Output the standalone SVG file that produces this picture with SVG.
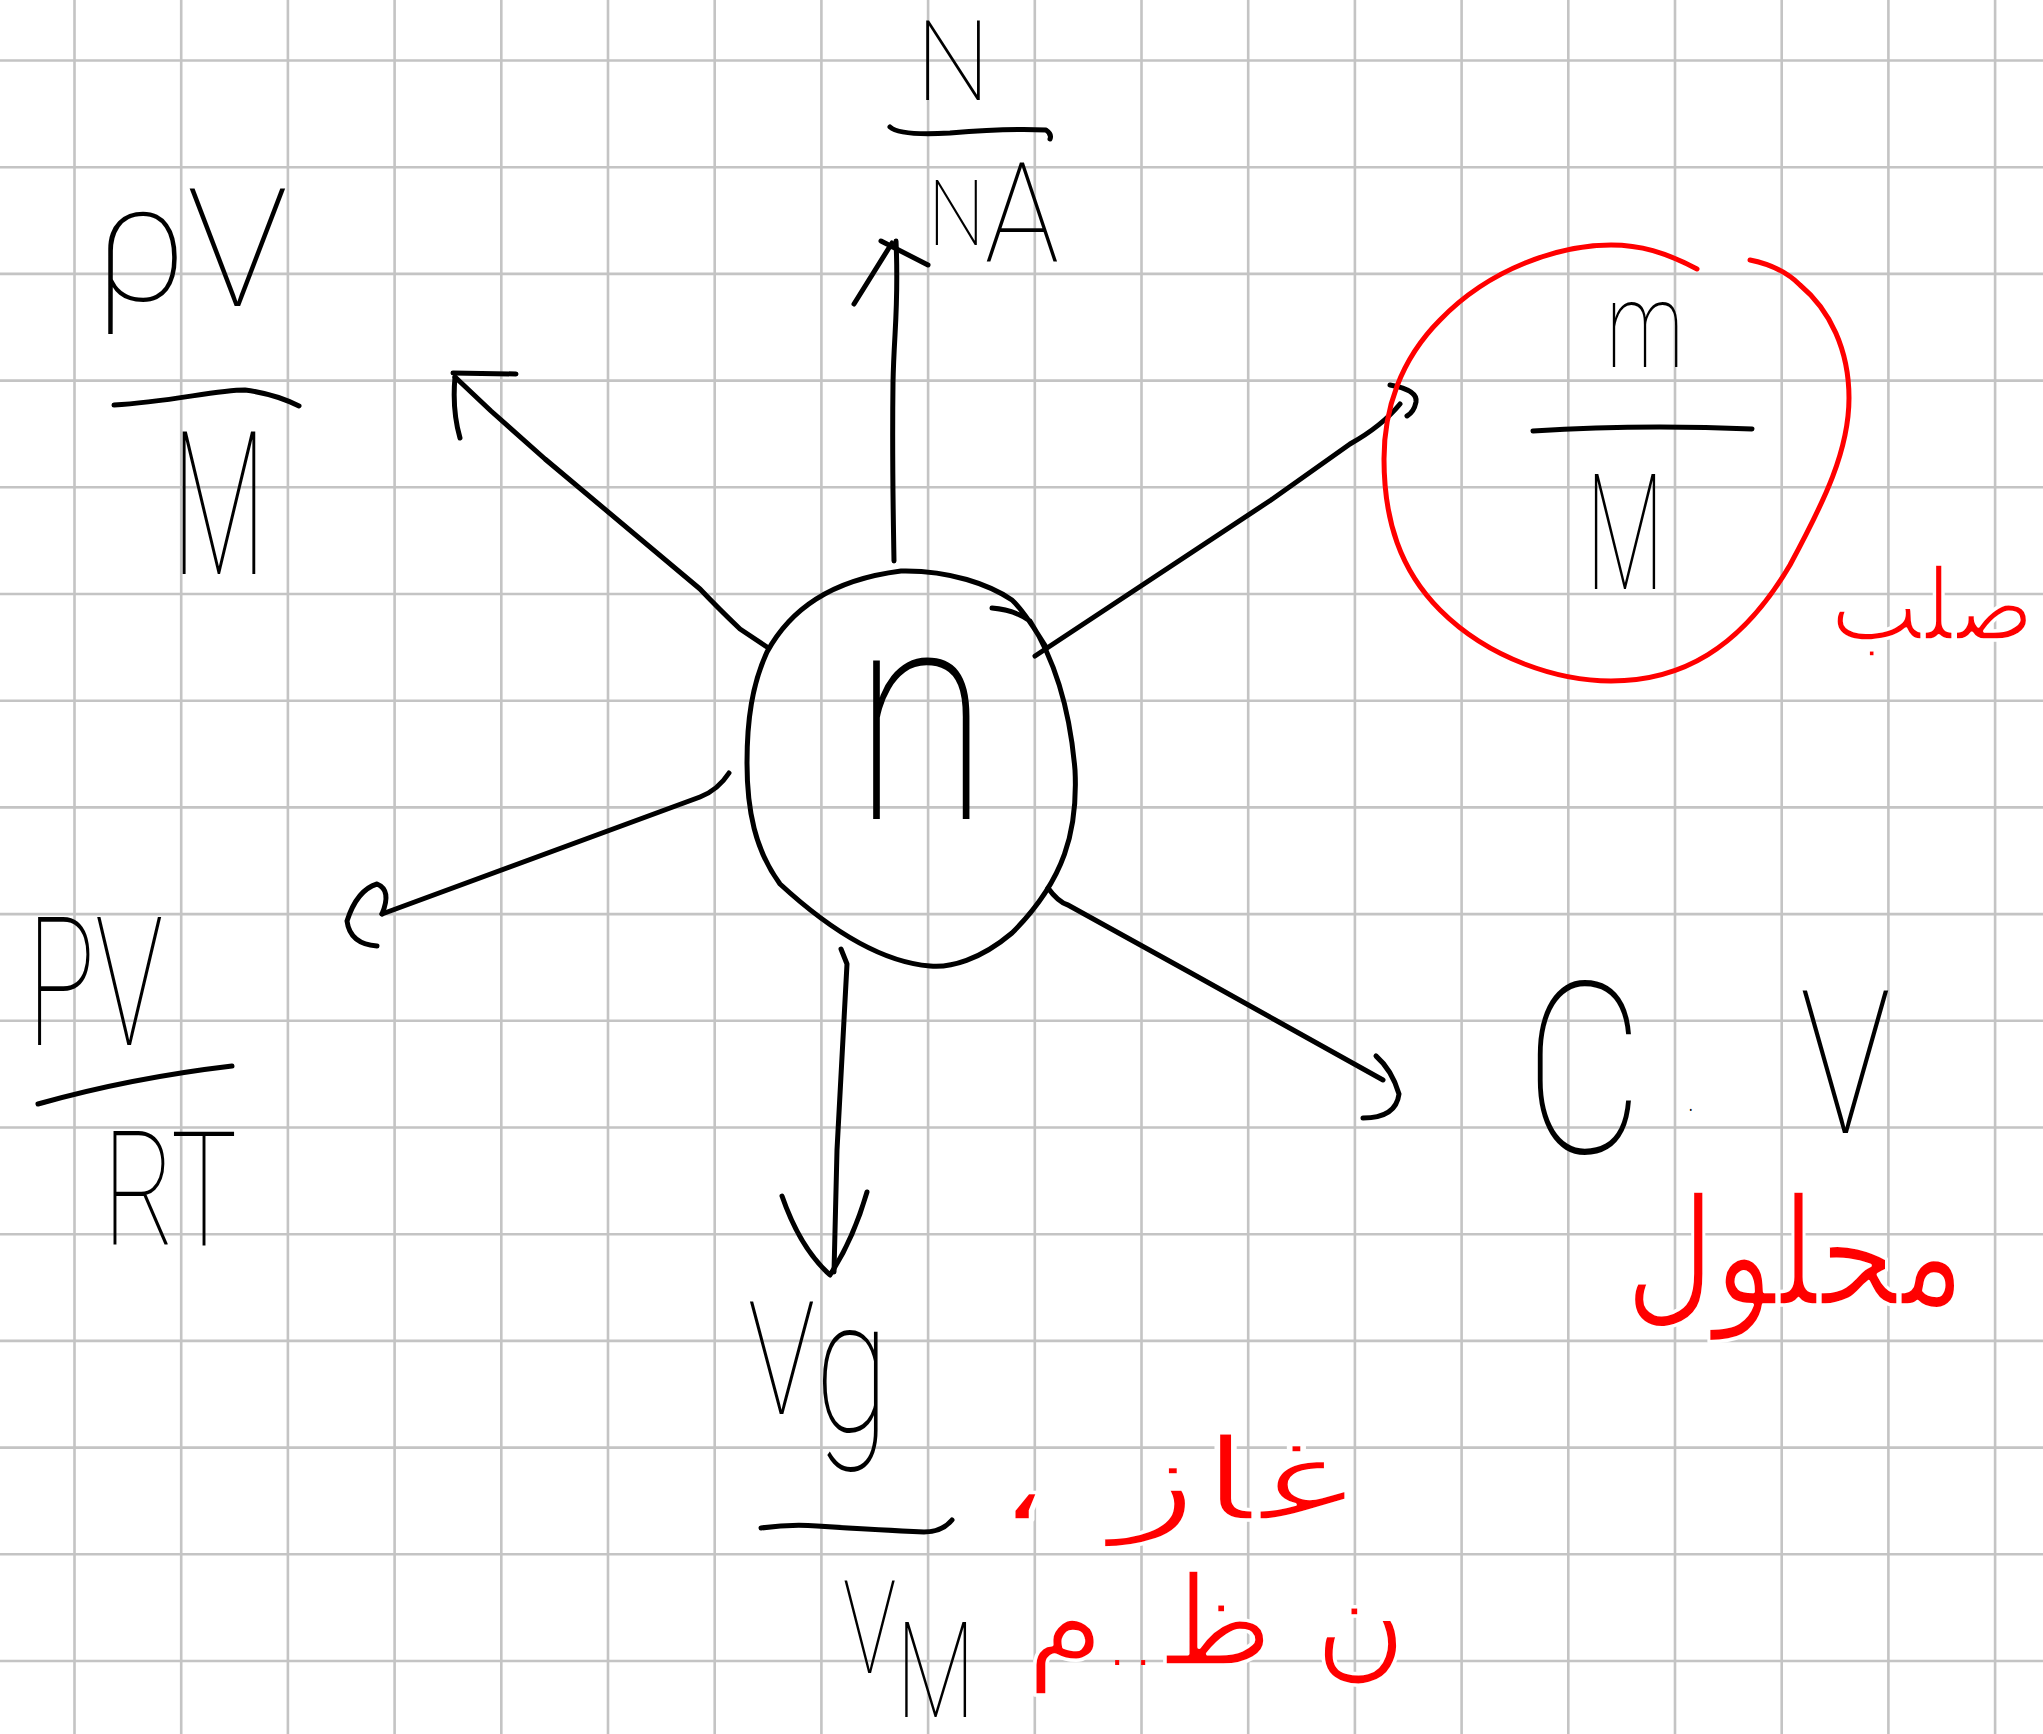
<svg xmlns="http://www.w3.org/2000/svg" width="2043" height="1734" viewBox="0 0 2043 1734">
<style>
.grid{stroke:#c4c4c4;stroke-width:2.6;fill:none}
.ink{stroke:#000;stroke-width:5;fill:none;stroke-linecap:round;stroke-linejoin:round}
.red{stroke:#ff0000;stroke-width:5;fill:none;stroke-linecap:round;stroke-linejoin:round}
.t{font-family:Roboto,"Liberation Sans",sans-serif;font-weight:100;fill:#000}
.ar{font-family:"DejaVu Sans","Noto Sans",sans-serif;font-weight:200;fill:#ff0000;stroke:#fff;stroke-width:3.5;stroke-linejoin:round}
</style>
<rect width="2043" height="1734" fill="#fff"/>
<g id="grid">
<path class="grid" d="M74.5 0V1734M181.2 0V1734M287.9 0V1734M394.6 0V1734M501.3 0V1734M608 0V1734M714.7 0V1734M821.4 0V1734M928.1 0V1734M1034.8 0V1734M1141.5 0V1734M1248.2 0V1734M1354.9 0V1734M1461.6 0V1734M1568.3 0V1734M1675 0V1734M1781.7 0V1734M1888.4 0V1734M1995.1 0V1734"/>
<path class="grid" d="M0 60.5H2043M0 167.2H2043M0 273.9H2043M0 380.6H2043M0 487.3H2043M0 594H2043M0 700.7H2043M0 807.4H2043M0 914.1H2043M0 1020.8H2043M0 1127.5H2043M0 1234.2H2043M0 1340.9H2043M0 1447.6H2043M0 1554.3H2043M0 1661H2043"/>
</g>
<g id="connectors">
<g id="to-NA">
<path class="ink" d="M894 561C893 500 892 459 893 383C894 330 899 306 896 241"/>
<path class="ink" d="M854 304L892 243M881 241L928 265"/>
</g>
<g id="to-rhoV">
<path class="ink" d="M767 647L740 629Q718 608 700 589L545 459L491 411L455 377"/>
<path class="ink" d="M453 373L516 374M455 377Q452 410 460 438"/>
</g>
<g id="to-mM">
<path class="ink" d="M1035 656L1271 500L1350 444Q1382 426 1400 404"/>
<path class="ink" d="M1390 385Q1418 390 1416 402Q1414 412 1407 416"/>
</g>
<g id="to-PVRT">
<path class="ink" d="M729 773Q718 790 700 797L382 914"/>
<path class="ink" d="M382 914Q392 890 377 884Q357 890 347 921Q350 944 377 946"/>
</g>
<g id="to-CV">
<path class="ink" d="M1048 888Q1058 902 1068 905L1191 973L1383 1080"/>
<path class="ink" d="M1376 1056Q1392 1070 1399 1094Q1396 1118 1363 1118"/>
</g>
<g id="to-VgVM">
<path class="ink" d="M841 949L847 964Q841 1080 837 1150L834 1272"/>
<path class="ink" d="M782 1196Q800 1248 830 1275Q853 1240 867 1192"/>
</g>
</g>
<g id="node-n">
<path class="ink" d="M992 608Q1015 610 1030 621C1055 660 1070 710 1075 770C1078 830 1065 880 1012 933C980 960 950 968 930 966C880 962 830 930 780 884C755 850 747 810 747 763C747 720 752 685 767 652C790 610 830 580 901 571C950 570 990 585 1012 600C1025 612 1035 630 1046 647"/>
<text class="t" x="852" y="819" font-size="300" textLength="138" lengthAdjust="spacingAndGlyphs">n</text>
</g>
<g id="node-NA">
<text class="t" x="916" y="100" font-size="112" textLength="74" lengthAdjust="spacingAndGlyphs">N</text>
<path class="ink" d="M890 127Q900 136 950 133Q1010 128 1046 130Q1052 134 1050 139"/>
<text class="t" x="928" y="245" font-size="90" textLength="131" lengthAdjust="spacingAndGlyphs">N<tspan font-size="140" dy="17">A</tspan></text>
</g>
<g id="node-rhoV">
<text class="t" x="94" y="300" font-size="165" textLength="194" lengthAdjust="spacingAndGlyphs">ρ<tspan dy="6">V</tspan></text>
<path class="ink" d="M114 405C170 402 215 390 245 390Q275 394 299 406"/>
<text class="t" x="172" y="574" font-size="200" textLength="94" lengthAdjust="spacingAndGlyphs">M</text>
</g>
<g id="node-mM">
<path class="red" d="M1697 269C1665 252 1640 245 1611 245C1560 245 1490 268 1440 320C1400 360 1384 410 1384 459C1384 520 1400 570 1440 610C1490 660 1560 681 1611 681C1680 681 1740 650 1790 565C1825 500 1849 450 1849 398C1849 350 1830 310 1800 285C1785 270 1765 263 1750 260"/>
<text class="t" x="1606" y="367" font-size="120" textLength="78" lengthAdjust="spacingAndGlyphs">m</text>
<path class="ink" d="M1533 431Q1640 424 1752 429"/>
<text class="t" x="1586" y="589" font-size="162" textLength="78" lengthAdjust="spacingAndGlyphs">M</text>
<text class="ar" x="1932" y="640" font-size="100" text-anchor="middle" direction="rtl" textLength="205" lengthAdjust="spacingAndGlyphs" stroke-width="2">صلب</text>
</g>
<g id="node-CV">
<text class="t" transform="translate(1525 1153) scale(0.76 1)" font-size="240"><tspan x="0" y="0">C</tspan><tspan x="214" y="-42" font-size="40">.</tspan><tspan x="362" y="-20" font-size="200">V</tspan></text>
<text class="ar" x="1795" y="1305" font-size="150" text-anchor="middle" direction="rtl" textLength="341" lengthAdjust="spacingAndGlyphs">محلول</text>
</g>
<g id="node-PVRT">
<text class="t" x="27" y="1045" font-size="180" textLength="136" lengthAdjust="spacingAndGlyphs">PV</text>
<path class="ink" d="M38 1104Q130 1078 232 1066"/>
<text class="t" x="103" y="1245" font-size="160" textLength="134" lengthAdjust="spacingAndGlyphs">RT</text>
</g>
<g id="node-VgVM">
<text class="t" x="748" y="1414" font-size="158" textLength="141" lengthAdjust="spacingAndGlyphs">V<tspan font-size="190" dy="18">g</tspan></text>
<path class="ink" d="M761 1528Q790 1524 817 1526Q880 1530 924 1532Q942 1532 952 1520"/>
<text class="t" x="843" y="1673" font-size="130" textLength="132" lengthAdjust="spacingAndGlyphs">V<tspan font-size="134" dy="44">M</tspan></text>
<text class="ar" x="1172" y="1520" font-size="115" text-anchor="middle" direction="rtl" textLength="359" lengthAdjust="spacingAndGlyphs">غاز ،</text>
<text class="ar" x="1217" y="1665" font-size="125" text-anchor="middle" direction="rtl" textLength="382" lengthAdjust="spacingAndGlyphs" stroke-width="2.5">ن ظ<tspan stroke="none" font-size="80">..</tspan>م</text>
</g>
</svg>
